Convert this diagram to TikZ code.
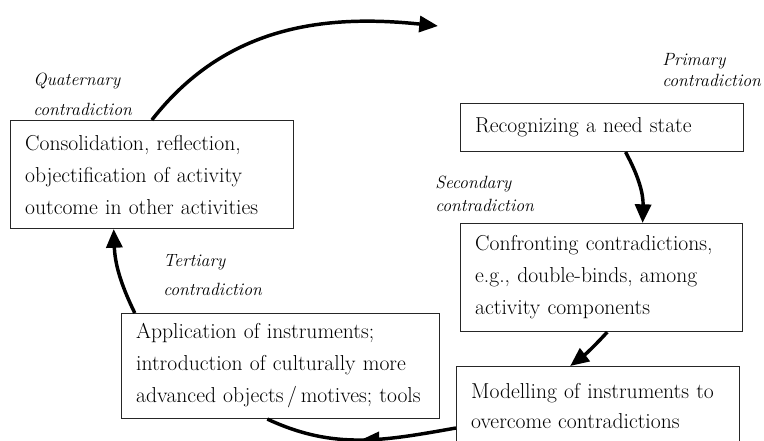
\documentclass[tikz,border=0pt]{standalone}
\usepackage{fontspec}
\usetikzlibrary{arrows.meta, decorations.markings}
\tikzset{>={Triangle[length=14pt,width=12pt]}}

\begin{document}
\begin{tikzpicture}[x=0.75pt, y=-0.75pt,
  stage/.style={draw=black!85, line width=0.8pt, anchor=north west, align=left,
    inner xsep=11pt, inner ysep=0pt, font=\fontsize{16.2}{24}\selectfont},
  contra/.style={anchor=north west, align=left, inner sep=0pt,
    font=\fontsize{13.3}{17}\selectfont\itshape},
  cycle/.style={line width=2.6pt, ->}]
\useasboundingbox (0,0) rectangle (764,441);
\clip (0,0) rectangle (764,441);

\node[stage, text width=190pt, minimum height=81pt] (cons) at (10,120)
  {Consolidation, reflection,\\objectification of activity\\outcome in other activities};
\node[stage, text width=190pt, minimum height=36pt] (need) at (460,103)
  {Recognizing a need state};
\node[stage, text width=189.5pt, minimum height=81pt] (conf) at (460,223)
  {Confronting contradictions,\\e.g., double-binds, among\\activity components};
\node[stage, text width=190pt, minimum height=58.5pt, font=\fontsize{16.2}{22.5}\selectfont] (model) at (456,366)
  {Modelling of instruments to\\overcome contradictions};
\node[stage, text width=216.5pt, minimum height=78.75pt] (appl) at (121,313)
  {Application of instruments;\\introduction of culturally more\\advanced objects\,/\,motives; tools};

\node[contra, font=\fontsize{13.3}{22}\selectfont\itshape] (quat) at (33,73) {Quaternary\\contradiction};
\node[contra, font=\fontsize{13.3}{16}\selectfont\itshape] (prim) at (662,53) {Primary\\contradiction};
\node[contra] (seco) at (435,176) {Secondary\\contradiction};
\node[contra, font=\fontsize{13.3}{22}\selectfont\itshape] (tert) at (163,254) {Tertiary\\contradiction};

\coordinate (topend) at (438,26);
\draw[cycle] (cons.north) to[out=52, in=174] (topend);
\draw[cycle] (need.-46) to[bend left=15] (conf.53);
\draw[cycle] (conf.-84) to[bend left=5] (model.125);
\draw[line width=2.6pt, postaction=decorate,
  decoration={markings, mark=at position 0.5 with {\arrow{>}}}]
  (model.189) to[out=190, in=-25] (appl.-104);
\draw[cycle] (appl.160) to[bend left=12] (cons.-125);
\end{tikzpicture}
\end{document}
